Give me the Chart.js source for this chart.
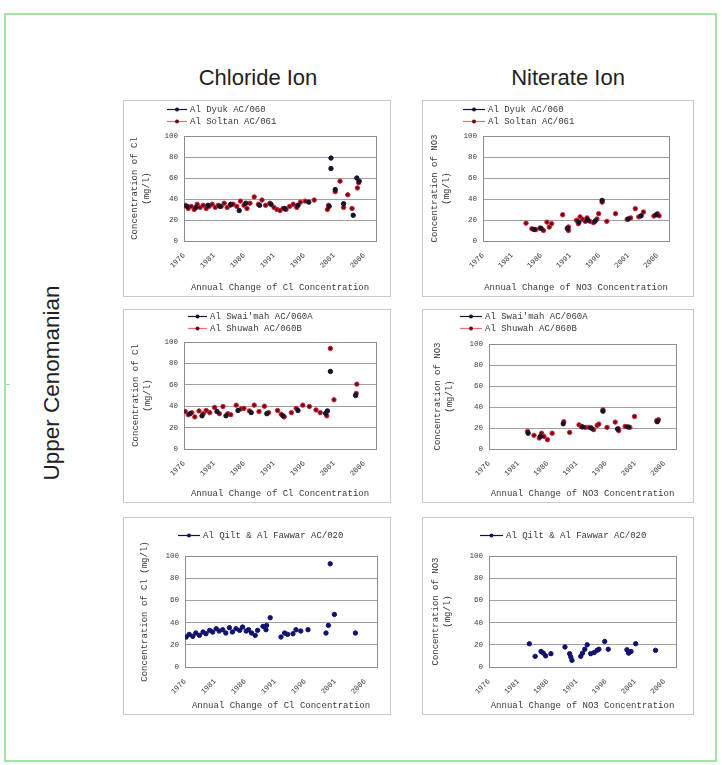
<!DOCTYPE html>
<html>
<head>
<meta charset="utf-8">
<script src="https://cdn.jsdelivr.net/npm/chart.js@4.4.1/dist/chart.umd.min.js"></script>
<style>
html, body { margin: 0; padding: 0; background: #fff; width: 722px; height: 765px; overflow: hidden; }
#frame { position: absolute; left: 4px; top: 13px; width: 713px; height: 749px; box-sizing: border-box; border: 2px solid #a3e3a3; }
#notch { position: absolute; left: 4px; top: 384px; width: 6px; height: 1px; background: #a3e3a3; }
.head { position: absolute; font-family: "Liberation Sans", Arial, sans-serif; font-size: 22px; color: #222; white-space: nowrap; transform: translate(-50%, -50%); }
#side { transform: translate(-50%, -50%) rotate(-90deg); font-size: 22.5px; }
.panel { position: absolute; box-sizing: border-box; border: 1px solid #c9c9c9; background: #fff; }
.panel canvas { display: block; }
</style>
</head>
<body>
<div id="frame"></div>
<div id="notch"></div>
<div class="head" style="left:258px; top:78px;">Chloride Ion</div>
<div class="head" style="left:568px; top:78px;">Niterate Ion</div>
<div class="head" id="side" style="left:52px; top:383px;">Upper Cenomanian</div>

<script>
// tick labels
const yearTicks = [1976, 1981, 1986, 1991, 1996, 2001, 2006];
const concTicks = [0, 20, 40, 60, 80, 100];

// Al Dyuk AC/060 & Al Soltan AC/061 - chloride
const soltanClYears = [1976.2, 1976.7, 1977.2, 1977.7, 1978.2, 1978.7, 1979.2, 1979.7, 1980.2, 1980.7, 1981.2, 1981.7, 1982.2, 1982.7, 1983.2, 1983.7, 1984.2, 1984.8, 1985.4, 1986.0, 1986.5, 1987.0, 1987.7, 1988.4, 1989.0, 1989.6, 1990.3, 1991.0, 1991.5, 1992.0, 1992.5, 1993.0, 1993.6, 1994.2, 1994.8, 1995.4, 1996.2, 1997.7, 1999.9, 2000.1, 2001.2, 2002.0, 2002.6, 2003.3, 2004.0, 2004.9, 2005.1];
const soltanClValues = [34, 31, 33, 30, 35, 32, 34, 31, 33, 35, 32, 34, 33, 36, 32, 34, 35, 33, 38, 34, 31, 36, 42, 35, 39, 34, 36, 32, 30, 29, 31, 30, 33, 35, 32, 37, 38, 39, 30, 34, 47, 57, 32, 44, 31, 50.5, 55.5];
const dyukClYears = [1976.5, 1978.0, 1980.0, 1982.0, 1983.8, 1985.2, 1986.3, 1988.6, 1990.5, 1992.8, 1995.0, 1996.8, 2000.2, 2000.5, 2000.5, 2001.2, 2002.6, 2004.2, 2004.8, 2005.2];
const dyukClValues = [33, 32, 34, 33, 35, 29, 36, 34, 35, 31, 34, 37, 33, 79, 69, 49, 35.5, 24.5, 60, 57];

// Al Dyuk AC/060 & Al Soltan AC/061 - nitrate
const soltanNoYears = [1983.4, 1984.4, 1985.1, 1985.8, 1986.4, 1987.0, 1987.4, 1987.8, 1989.7, 1990.7, 1990.7, 1992.1, 1992.4, 1992.7, 1993.2, 1993.6, 1993.9, 1994.4, 1995.0, 1995.6, 1995.9, 1996.5, 1997.3, 1998.8, 2000.8, 2001.4, 2002.2, 2002.8, 2003.6, 2005.4, 2006.0, 2006.3];
const soltanNoValues = [17, 11.7, 10.8, 12.4, 10, 18, 13.3, 16.5, 25, 13.3, 10, 19.7, 16.5, 23, 20.6, 18.7, 22, 18.7, 17.5, 21, 26, 37, 18.7, 26, 20.6, 22, 30.8, 23, 27.6, 23.8, 26, 24];
const dyukNoYears = [1984.8, 1986.0, 1990.5, 1992.5, 1994.0, 1995.3, 1996.5, 2001.0, 2003.2, 2005.8];
const dyukNoValues = [11, 12, 12, 18, 20, 19, 38.7, 21, 24, 25];

// Al Swai'mah AC/060A & Al Shuwah AC/060B - chloride
const shuwahClYears = [1976.2, 1976.7, 1977.3, 1977.8, 1978.5, 1979.2, 1979.7, 1980.3, 1981.1, 1981.9, 1982.5, 1983.3, 1983.8, 1984.7, 1985.5, 1986.0, 1986.9, 1987.7, 1988.5, 1989.4, 1990.1, 1991.6, 1992.2, 1992.7, 1993.9, 1994.7, 1995.8, 1996.9, 1998.0, 1998.7, 1999.8, 2000.4, 2001.0, 2004.7, 2004.8];
const shuwahClValues = [35, 32, 34, 30, 35.6, 33, 36, 34, 38.8, 33, 39.7, 33, 32, 41, 37.5, 38, 35.6, 41, 35, 40, 34, 36, 32.5, 30, 34, 38, 41, 39.7, 36.5, 34, 31, 94, 46, 52, 60.6];
const swaimahClYears = [1977.0, 1979.0, 1981.5, 1983.0, 1985.0, 1987.2, 1989.8, 1992.5, 1995.0, 1999.6, 1999.9, 2000.4, 2004.6];
const swaimahClValues = [33, 31, 35, 31, 36, 34, 33, 31, 36, 33.4, 35.6, 72.5, 50];

// Al Swai'mah AC/060A & Al Shuwah AC/060B - nitrate
const shuwahNoYears = [1982.6, 1983.7, 1984.6, 1985.0, 1985.4, 1986.0, 1986.8, 1988.8, 1989.8, 1991.4, 1991.8, 1992.5, 1993.1, 1993.9, 1994.5, 1994.8, 1995.5, 1996.2, 1997.6, 1998.1, 1998.2, 1999.3, 2000.1, 2000.9, 2004.7, 2005.0];
const shuwahNoValues = [16.8, 13, 10.4, 15, 12, 8.9, 15, 26, 15.8, 23, 21.5, 20.6, 20.6, 18.4, 22.5, 23.7, 37.3, 20.6, 25.6, 19.3, 17.4, 21.5, 20.6, 31, 27, 27.8];
const swaimahNoYears = [1982.7, 1984.8, 1988.7, 1992.0, 1993.5, 1995.5, 1998.0, 1999.8, 2004.8];
const swaimahNoValues = [15, 12, 24, 21, 20, 36, 19, 21, 26];

// Al Qilt & Al Fawwar AC/020
const qiltClYears = [1976.2, 1976.7, 1977.3, 1977.8, 1978.4, 1979.0, 1979.5, 1980.1, 1980.6, 1981.2, 1981.7, 1982.3, 1982.8, 1983.4, 1983.9, 1984.5, 1985.1, 1985.6, 1986.2, 1986.6, 1987.1, 1987.7, 1988.1, 1989.0, 1989.5, 1989.6, 1990.2, 1992.0, 1992.6, 1993.1, 1994.0, 1994.5, 1995.3, 1996.5, 1999.5, 1999.9, 2000.2, 2000.9, 2004.4];
const qiltClValues = [27, 29.4, 27.6, 30.6, 28.5, 31.5, 30, 33, 31.5, 34.5, 32.4, 33.6, 30.6, 35.4, 31.5, 34.5, 33, 36, 32.4, 33.6, 30.6, 28.5, 33, 36.6, 33.6, 37.5, 44.4, 27, 30.6, 29.4, 30, 33.6, 32.4, 33.6, 30.6, 37.5, 93, 47.4, 30.6];
const qiltNoYears = [1982.9, 1983.9, 1984.9, 1985.3, 1985.7, 1986.6, 1989.0, 1989.8, 1990.0, 1990.2, 1991.7, 1992.0, 1992.4, 1992.8, 1993.4, 1994.0, 1994.5, 1994.8, 1995.8, 1996.4, 1999.6, 1999.9, 2000.3, 2001.1, 2004.5];
const qiltNoValues = [20.9, 9.6, 14, 12.5, 10, 12, 18, 12, 9, 6, 9.6, 12.5, 16, 20, 12, 13, 15, 16, 23, 16, 15.5, 12.5, 14, 21, 15];

const MONO = '"Liberation Mono", "DejaVu Sans Mono", monospace';
const TEXT = '#3a3a3a';

const dark = { fill: '#14142a', edge: '#14142a', line: '#1a1a30' };
const red = { fill: '#6a0c18', edge: '#d42030', line: '#ee6a78' };
const navy = { fill: '#12126e', edge: '#12126e', line: '#111130' };

function pairs(xs, ys) {
    return xs.map((x, i) => ({ x: x, y: ys[i] }));
}

const clTitle = ['Concentration of Cl', '(mg/l)'];
const noTitle = ['Concentration of NO3', '(mg/l)'];

const panels = [
    {
        box: [123, 100, 268, 197], plot: [184, 136, 376, 241],
        key: { ys: [109, 121], x1: 167, x2: 187, tx: 190 },
        yTitle: clTitle, yTitleAt: 12, xTitle: 'Annual Change of Cl Concentration',
        series: [
            { label: 'Al Dyuk AC/060', data: pairs(dyukClYears, dyukClValues), style: dark },
            { label: 'Al Soltan AC/061', data: pairs(soltanClYears, soltanClValues), style: red }
        ]
    },
    {
        box: [422, 100, 272, 197], plot: [483, 136, 669, 241],
        key: { ys: [109, 121], x1: 463, x2: 485, tx: 488 },
        yTitle: noTitle, yTitleAt: 13, xTitle: 'Annual Change of NO3 Concentration',
        series: [
            { label: 'Al Dyuk AC/060', data: pairs(dyukNoYears, dyukNoValues), style: dark },
            { label: 'Al Soltan AC/061', data: pairs(soltanNoYears, soltanNoValues), style: red }
        ]
    },
    {
        box: [123, 309, 268, 194], plot: [184, 342, 376, 449],
        key: { ys: [316, 328], x1: 188, x2: 207, tx: 210 },
        yTitle: clTitle, yTitleAt: 13, xTitle: 'Annual Change of Cl Concentration',
        series: [
            { label: "Al Swai'mah AC/060A", data: pairs(swaimahClYears, swaimahClValues), style: dark },
            { label: 'Al Shuwah AC/060B', data: pairs(shuwahClYears, shuwahClValues), style: red }
        ]
    },
    {
        box: [422, 309, 272, 194], plot: [489, 344, 676, 449],
        key: { ys: [316, 328], x1: 460, x2: 482, tx: 485 },
        yTitle: noTitle, yTitleAt: 16, xTitle: 'Annual Change of NO3 Concentration',
        series: [
            { label: "Al Swai'mah AC/060A", data: pairs(swaimahNoYears, swaimahNoValues), style: dark },
            { label: 'Al Shuwah AC/060B', data: pairs(shuwahNoYears, shuwahNoValues), style: red }
        ]
    },
    {
        box: [123, 517, 268, 198], plot: [185, 556, 377, 667],
        key: { ys: [535], x1: 178, x2: 200, tx: 203 },
        yTitle: 'Concentration of Cl (mg/l)', yTitleAt: 22, xTitle: 'Annual Change of Cl Concentration',
        series: [
            { label: 'Al Qilt & Al Fawwar AC/020', data: pairs(qiltClYears, qiltClValues), style: navy }
        ]
    },
    {
        box: [422, 517, 272, 198], plot: [489, 556, 676, 667],
        key: { ys: [535], x1: 480, x2: 503, tx: 506 },
        yTitle: noTitle, yTitleAt: 14, xTitle: 'Annual Change of NO3 Concentration',
        series: [
            { label: 'Al Qilt & Al Fawwar AC/020', data: pairs(qiltNoYears, qiltNoValues), style: navy }
        ]
    }
];

function panelPlugin(p, ox, oy) {
    return {
        id: 'panelDecor',
        beforeDatasetsDraw(chart) {
            const { ctx, chartArea: a } = chart;
            ctx.save();
            ctx.strokeStyle = '#8e8e8e';
            ctx.lineWidth = 1;
            ctx.strokeRect(Math.round(a.left) + 0.5, Math.round(a.top) + 0.5,
                Math.round(a.right - a.left), Math.round(a.bottom - a.top));
            ctx.restore();
        },
        afterDraw(chart) {
            const ctx = chart.ctx;
            ctx.save();
            p.series.forEach((s, i) => {
                const y = p.key.ys[i] - oy + 0.5;
                const x1 = p.key.x1 - ox, x2 = p.key.x2 - ox;
                ctx.strokeStyle = s.style.line;
                ctx.lineWidth = 1.2;
                ctx.beginPath();
                ctx.moveTo(x1, y);
                ctx.lineTo(x2, y);
                ctx.stroke();
                ctx.fillStyle = s.style.fill;
                ctx.beginPath();
                ctx.arc((x1 + x2) / 2, y, 2, 0, Math.PI * 2);
                ctx.fill();
                ctx.fillStyle = TEXT;
                ctx.font = '9px ' + MONO;
                ctx.textBaseline = 'middle';
                ctx.textAlign = 'left';
                ctx.fillText(s.label, p.key.tx - ox, y);
            });
            ctx.restore();
        }
    };
}

function drawPanel(p) {
    const div = document.createElement('div');
    div.className = 'panel';
    div.style.left = p.box[0] + 'px';
    div.style.top = p.box[1] + 'px';
    div.style.width = p.box[2] + 'px';
    div.style.height = p.box[3] + 'px';
    const canvas = document.createElement('canvas');
    const cw = p.box[2] - 2, ch = p.box[3] - 2;
    canvas.width = cw;
    canvas.height = ch;
    canvas.style.width = cw + 'px';
    canvas.style.height = ch + 'px';
    div.appendChild(canvas);
    document.body.appendChild(div);

    const ox = p.box[0] + 1, oy = p.box[1] + 1;
    const leftW = p.plot[0] - ox;
    const topPad = p.plot[1] - oy;
    const rightPad = ox + cw - p.plot[2];
    const bottomH = oy + ch - p.plot[3];

    new Chart(canvas, {
        type: 'scatter',
        data: {
            datasets: p.series.map(s => ({
                label: s.label,
                data: s.data,
                backgroundColor: s.style.fill,
                borderColor: s.style.edge,
                pointRadius: 2.2,
                pointBorderWidth: 1,
                showLine: false
            }))
        },
        options: {
            responsive: false,
            animation: false,
            devicePixelRatio: 1,
            layout: { padding: { top: topPad, right: rightPad, left: 0, bottom: 0 } },
            plugins: {
                legend: { display: false },
                tooltip: { enabled: false }
            },
            scales: {
                x: {
                    type: 'linear',
                    min: 1976,
                    max: 2008,
                    afterBuildTicks: scale => { scale.ticks = yearTicks.map(v => ({ value: v })); },
                    afterFit: scale => { scale.height = bottomH; },
                    grid: { display: false, drawTicks: false },
                    border: { display: false },
                    ticks: {
                        minRotation: 45, maxRotation: 45, padding: 10,
                        autoSkip: false,
                        color: TEXT,
                        font: { family: MONO, size: 7.5 },
                        callback: v => String(v)
                    },
                    title: {
                        display: true, text: p.xTitle, color: TEXT,
                        font: { family: MONO, size: 9 },
                        padding: { top: 0, bottom: 3 }
                    }
                },
                y: {
                    min: 0,
                    max: 100,
                    afterBuildTicks: scale => { scale.ticks = concTicks.map(v => ({ value: v })); },
                    afterFit: scale => { scale.width = leftW; },
                    grid: { color: '#a0a0a0', lineWidth: 1, drawTicks: false },
                    border: { display: false },
                    ticks: {
                        padding: 6,
                        color: TEXT,
                        font: { family: MONO, size: 7.5 }
                    },
                    title: {
                        display: true, text: p.yTitle, color: TEXT,
                        font: { family: MONO, size: 9, lineHeight: 1.25 },
                        padding: { top: p.yTitleAt - 1 - 5.6, bottom: 0 }
                    }
                }
            }
        },
        plugins: [panelPlugin(p, ox, oy)]
    });
}

panels.forEach(drawPanel);
</script>
</body>
</html>
